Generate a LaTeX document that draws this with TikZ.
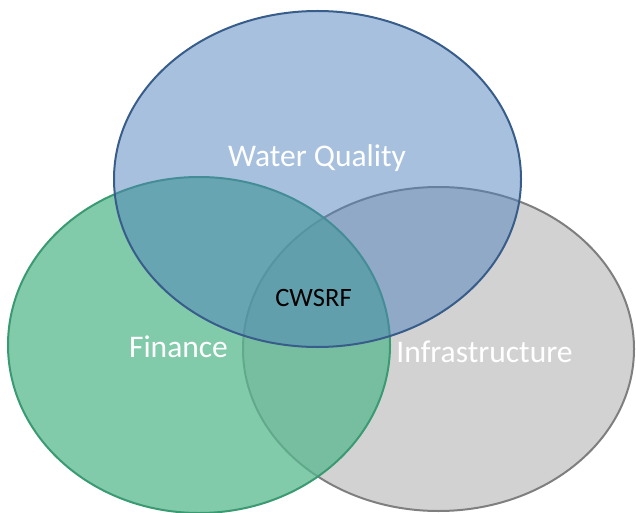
\documentclass[tikz,border=0pt]{standalone}
\usepackage{fontspec}
\setmainfont{Carlito}
\usepackage{tikz}
\usetikzlibrary{shapes.geometric,positioning}

\definecolor{wqblue}{HTML}{4F81BD}
\definecolor{wqedge}{HTML}{385D8A}
\definecolor{fingreen}{HTML}{57B88E}
\definecolor{finedge}{HTML}{3A9A72}
\definecolor{infgray}{HTML}{A6A6A6}
\definecolor{infedge}{HTML}{7F7F7F}

\begin{document}
\begin{tikzpicture}[x=1pt,y=-1pt,
    setshape/.style={ellipse, inner sep=0pt, line width=2pt, fill opacity=0.5, draw opacity=1},
    setname/.style={text=white, font=\fontsize{31.5}{36}\selectfont},
  ]

    \useasboundingbox (0,0) rectangle (636,513);

    % Sets, bottom one first
    \node[setshape, draw=infedge, fill=infgray, minimum width=391pt, minimum height=324pt] (infra) at (438.5,349) {};
    \node[setshape, fill opacity=0.75, draw=finedge, fill=fingreen, minimum width=382pt, minimum height=336pt] (finance) at (199,345) {};
    \node[setshape, draw=wqedge, fill=wqblue, minimum width=407pt, minimum height=336pt] (quality) at (317.5,179) {};

    % Labels
    \node[setname] (qualitytext) at (317,158) {Water Quality};
    \node[setname] (financetext) at (178.5,347) {Finance};
    \node[setname] (infratext) at (484.5,352) {Infrastructure};
    \node[font=\fontsize{26.5}{30}\selectfont] (core) at (313.5,298) {CWSRF};

\end{tikzpicture}
\end{document}
